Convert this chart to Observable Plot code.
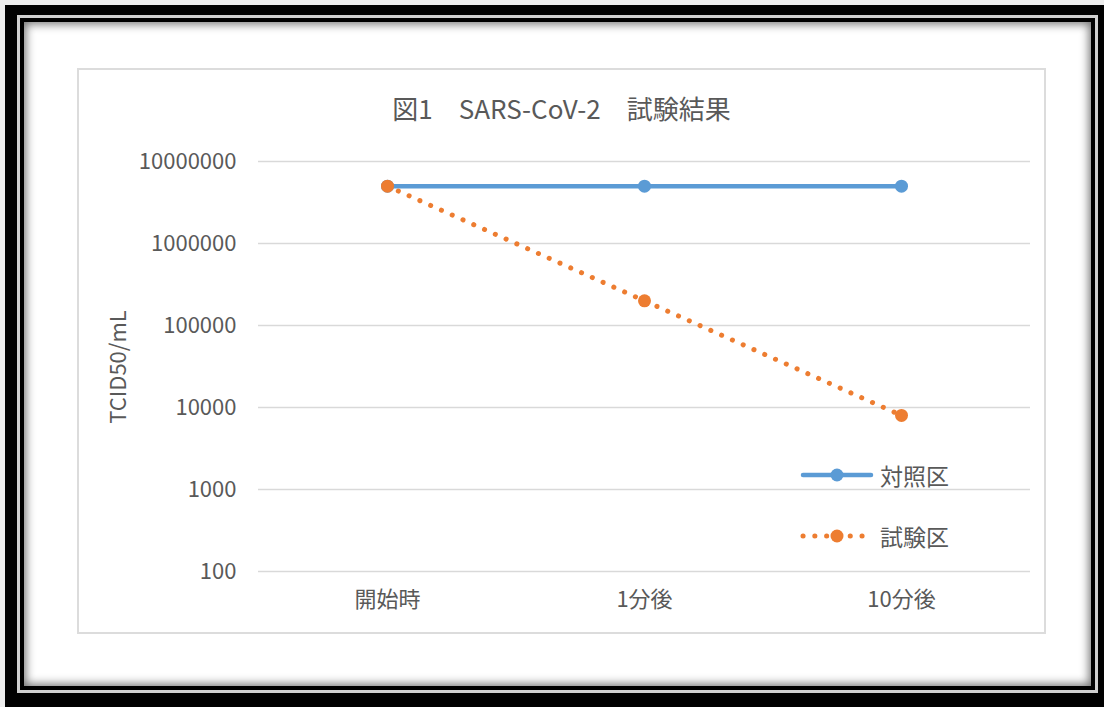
<!DOCTYPE html>
<html>
<head>
<meta charset="utf-8">
<script src="https://cdn.jsdelivr.net/npm/d3@7"></script>
<script src="https://cdn.jsdelivr.net/npm/@observablehq/plot@0.6"></script>
<style>
  html, body { margin: 0; padding: 0; }
  body { width: 1104px; height: 707px; background: #ececec; position: relative; overflow: hidden;
         font-family: "Noto Sans CJK JP", "Open Sans", sans-serif; color: #595959; }
  .frame { position: absolute; left: 5px; top: 5px; width: 1099px; height: 702px; box-sizing: border-box;
           background: #000; padding: 10px 6px 14px 12px; }
  .stripe { width: 100%; height: 100%; box-sizing: border-box; background: #cfcfcf; padding: 3px; }
  .inner { width: 100%; height: 100%; box-sizing: border-box; background: #000; padding: 4px; }
  .white { width: 100%; height: 100%; background: #fff; box-shadow: inset 0 0 10px 2px rgba(0,0,0,0.55); }
  .chartbox { position: absolute; left: 77px; top: 68px; width: 969px; height: 566px; box-sizing: border-box;
              border: 2px solid #dcdcdc; background: #fff; }
  #plot { position: absolute; left: 77px; top: 68px; width: 969px; height: 566px; }
  .title { position: absolute; left: 77px; width: 969px; top: 91px; text-align: center; font-size: 26px;
           line-height: 34px; color: #595959; white-space: pre; }
  .ylabel { position: absolute; left: 116px; top: 367px; transform: translate(-50%, -50%) rotate(-90deg);
            font-size: 22px; white-space: nowrap; color: #595959; }
  .legend-item { position: absolute; left: 800px; height: 30px; display: flex; align-items: center; }
  .legend-item span { font-size: 23px; margin-left: 6px; color: #595959; }
</style>
</head>
<body>
<div class="frame"><div class="stripe"><div class="inner"><div class="white"></div></div></div></div>
<div class="chartbox"></div>
<div id="plot"></div>
<div class="title" id="title"></div>
<div class="ylabel" id="ylabel"></div>
<div class="legend-item" id="leg0" style="top:460px"></div>
<div class="legend-item" id="leg1" style="top:521px"></div>
<script>
const titleText = "図1　SARS-CoV-2　試験結果";
const yLabel = "TCID50/mL";
const categories = ["開始時", "1分後", "10分後"];
const seriesNames = ["対照区", "試験区"];
const controlValues = [5000000, 5000000, 5000000];
const testValues = [5000000, 200000, 8000];
const yTicks = [100, 1000, 10000, 100000, 1000000, 10000000];
const colors = ["#5b9bd5", "#ed7d31"];

const control = categories.map((c, i) => ({cat: c, v: controlValues[i]}));
const test = categories.map((c, i) => ({cat: c, v: testValues[i]}));

document.getElementById("title").textContent = titleText;
document.getElementById("ylabel").textContent = yLabel;

const chart = Plot.plot({
  width: 969,
  height: 566,
  marginLeft: 181,
  marginRight: 16,
  marginTop: 93,
  marginBottom: 63,
  style: {fontFamily: '"Noto Sans CJK JP", "Open Sans", sans-serif', fontSize: "22px", color: "#595959", background: "transparent"},
  x: {type: "point", domain: categories, padding: 0.5, tickSize: 0, tickPadding: 20, label: null},
  y: {type: "log", domain: [100, 10000000], ticks: yTicks, tickFormat: d3.format("d"), tickSize: 0, tickPadding: 22, label: null},
  marks: [
    Plot.ruleY(yTicks, {stroke: "#d9d9d9", strokeWidth: 1.5}),
    Plot.line(control, {x: "cat", y: "v", stroke: colors[0], strokeWidth: 4.5}),
    Plot.dot(control, {x: "cat", y: "v", r: 6.5, fill: colors[0], stroke: "none"}),
    Plot.line(test, {x: "cat", y: "v", stroke: colors[1], strokeWidth: 5, strokeDasharray: "0.1 11.7", strokeLinecap: "round"}),
    Plot.dot(test, {x: "cat", y: "v", r: 6.5, fill: colors[1], stroke: "none"})
  ]
});
document.getElementById("plot").appendChild(chart);

// Legend
seriesNames.forEach((name, i) => {
  const item = document.getElementById("leg" + i);
  const svg = d3.create("svg").attr("width", 74).attr("height", 30);
  const line = svg.append("line").attr("x1", 3).attr("x2", 71).attr("y1", 15).attr("y2", 15)
    .attr("stroke", colors[i]).attr("stroke-width", i === 1 ? 5 : 4.5).attr("stroke-linecap", "round");
  if (i === 1) line.attr("stroke-dasharray", "0.1 11.7");
  svg.append("circle").attr("cx", 37).attr("cy", 15).attr("r", 6.5).attr("fill", colors[i]);
  item.appendChild(svg.node());
  const span = document.createElement("span");
  span.textContent = name;
  item.appendChild(span);
});
</script>
</body>
</html>
